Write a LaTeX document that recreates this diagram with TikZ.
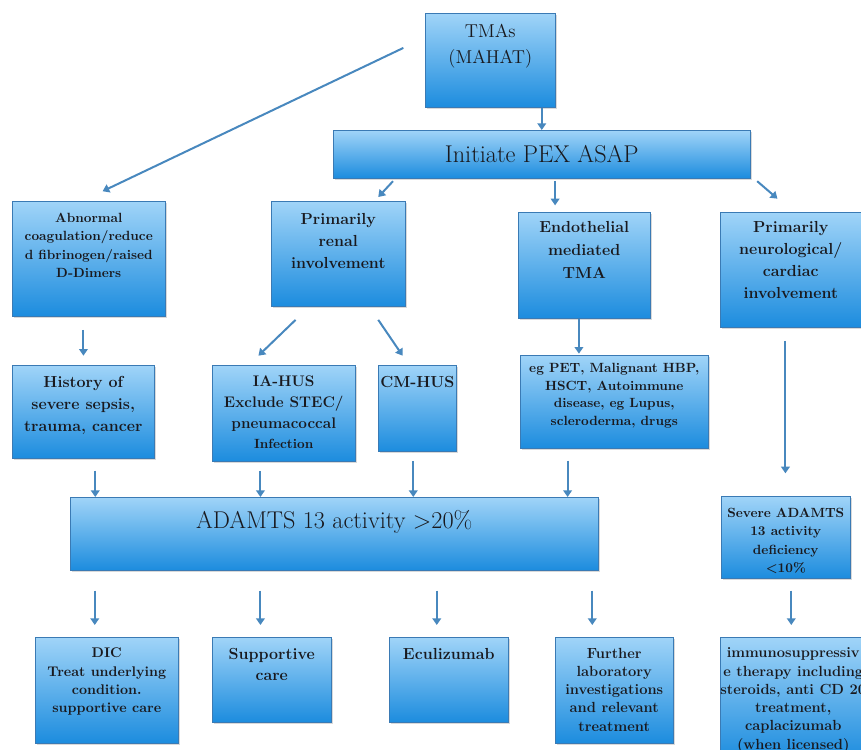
\documentclass[tikz,border=0pt]{standalone}
\usetikzlibrary{positioning,arrows.meta,shadows}

\definecolor{boxtop}{RGB}{160,212,248}
\definecolor{boxbot}{RGB}{28,140,222}
\definecolor{boxline}{RGB}{58,122,180}
\definecolor{arrblue}{RGB}{72,136,190}
\definecolor{inktxt}{RGB}{25,25,30}

\tikzset{
  flowbox/.style={draw=boxline, thin, top color=boxtop, bottom color=boxbot,
    anchor=north west, inner sep=0pt,
    drop shadow={shadow xshift=1.2pt, shadow yshift=-1.2pt, opacity=.3}},
  boxtext/.style={align=center, inner sep=0pt, text=inktxt},
  small/.style={boxtext, font=\bfseries\fontsize{10}{13.75}\selectfont},
  mid/.style={boxtext, font=\bfseries\fontsize{11}{13.7}\selectfont},
  large/.style={boxtext, font=\bfseries\fontsize{12}{16.5}\selectfont},
  huge/.style={boxtext, font=\fontsize{18.2}{21}\selectfont},
  arr/.style={draw=arrblue, line width=1.5pt, -{Triangle[width=6.5pt,length=5pt]}},
}

\begin{document}
\begin{tikzpicture}[x=0.75pt,y=-0.75pt]
\useasboundingbox (0,0) rectangle (861,750);
\clip (0,0) rectangle (861,750);

% top
\node[flowbox, minimum width=97.5pt, minimum height=70.5pt] (tmas) at (425,13) {};
\node[boxtext, font=\fontsize{14}{19.5}\selectfont, below=8pt of tmas.north] (tmasT) {TMAs\\(MAHAT)};
\node[flowbox, minimum width=312.75pt, minimum height=36pt] (pex) at (333,130) {};
\node[huge] (pexT) at (pex.center) {Initiate PEX ASAP};

% second row
\node[flowbox, minimum width=114.75pt, minimum height=86.25pt] (abn) at (12,201) {};
\node[small, below=9pt of abn.north] (abnT) {Abnormal\\coagulation/reduce\\d fibrinogen/raised\\D-Dimers};
\node[flowbox, minimum width=100.5pt, minimum height=78.75pt] (renal) at (271,201) {};
\node[large, below=9pt of renal.north] (renalT) {Primarily\\renal\\involvement};
\node[flowbox, minimum width=99pt, minimum height=79.5pt] (endo) at (518,212) {};
\node[large, font=\bfseries\fontsize{12}{17}\selectfont, below=7pt of endo.north] (endoT) {Endothelial\\mediated\\TMA};
\node[flowbox, minimum width=105.75pt, minimum height=86.25pt] (neuro) at (720,212) {};
\node[large, below=7pt of neuro.north] (neuroT) {Primarily\\neurological/\\cardiac\\involvement};

% third row
\node[flowbox, minimum width=106.5pt, minimum height=69.75pt] (hist) at (12,365) {};
\node[large, below=8pt of hist.north] (histT) {History of\\severe sepsis,\\trauma, cancer};
\node[flowbox, minimum width=107.25pt, minimum height=72pt] (iahus) at (212,365) {};
\node[boxtext, font=\bfseries\fontsize{11.5}{15.5}\selectfont, below=8pt of iahus.north] (iahusT) {IA-HUS\\Exclude STEC/\\pneumacoccal\\{\fontsize{10}{12}\selectfont Infection}};
\node[flowbox, minimum width=58.5pt, minimum height=64.5pt] (cmhus) at (378,365) {};
\node[large, below=8pt of cmhus.north] (cmhusT) {CM-HUS};
\node[flowbox, minimum width=141pt, minimum height=69.75pt] (egpet) at (520,355) {};
\node[small, font=\bfseries\fontsize{10}{13.3}\selectfont, below=6pt of egpet.north] (egpetT) {eg PET, Malignant HBP,\\HSCT, Autoimmune\\disease, eg Lupus,\\scleroderma, drugs};

% ADAMTS row
\node[flowbox, minimum width=396pt, minimum height=54.75pt] (adamts) at (70,497) {};
\node[huge, below=9.5pt of adamts.north] (adamtsT) {ADAMTS 13 activity >20\%};
\node[flowbox, minimum width=96.75pt, minimum height=61.5pt] (severe) at (721,496) {};
\node[small, below=9pt of severe.north] (severeT) {Severe ADAMTS\\13 activity\\deficiency\\<10\%};

% bottom row
\node[flowbox, minimum width=107.25pt, minimum height=79.5pt] (dic) at (35,637) {};
\node[boxtext, font=\bfseries\fontsize{10.5}{13.75}\selectfont, below=8pt of dic.north] (dicT) {DIC\\Treat underlying\\condition.\\supportive care};
\node[flowbox, minimum width=89.25pt, minimum height=63.75pt] (supp) at (212,637) {};
\node[large, font=\bfseries\fontsize{12}{15.7}\selectfont, below=8pt of supp.north] (suppT) {Supportive\\care};
\node[flowbox, minimum width=89.25pt, minimum height=63.75pt] (ecu) at (389,637) {};
\node[large, below=8pt of ecu.north] (ecuT) {Eculizumab};
\node[flowbox, minimum width=88.5pt, minimum height=79.5pt] (further) at (555,637) {};
\node[mid, below=8pt of further.north] (furtherT) {Further\\laboratory\\investigations\\and relevant\\treatment};
\node[flowbox, minimum width=109.5pt, minimum height=92.25pt] (immuno) at (720,637) {};
\node[mid, below=8pt of immuno.north] (immunoT) {immunosuppressiv\\e therapy including\\steroids, anti CD 20\\treatment,\\caplacizumab\\(when licensed)};

% arrows
\draw[arr, shorten <=18pt, shorten >=17pt] ([yshift=17pt]tmas.west) -- ([xshift=-5pt]abn.north);
\draw[arr] (tmas.south -| pex.north) -- (pex.north);
\draw[arr] ([xshift=45pt,yshift=-2pt]pex.south west) -- ([xshift=30pt,yshift=3pt]renal.north);
\draw[arr, shorten <=2pt, shorten >=5pt] ([xshift=10pt]pex.south) -- ([xshift=10pt]pex.south |- endo.north);
\draw[arr] ([xshift=5pt,yshift=-2pt]pex.south east) -- ([xshift=-10pt,yshift=10pt]neuro.north);
\draw[arr, shorten <=10pt, shorten >=7pt] ([xshift=-4pt]abn.south) -- ([xshift=-4pt]abn.south |- hist.north);
\draw[arr] ([shift={(-32pt,-10pt)}]renal.south) -- ([shift={(-19pt,7pt)}]iahus.north);
\draw[arr] ([shift={(30pt,-10pt)}]renal.south) -- ([shift={(-11pt,7pt)}]cmhus.north);
\draw[arr, shorten >=1pt] ([xshift=-4pt]endo.south) -- ([xshift=-4pt]endo.south |- egpet.north);
\draw[arr, shorten <=10pt, shorten >=17pt] ([xshift=-4pt]neuro.south) -- ([xshift=-4pt]neuro.south |- severe.north);
\draw[arr, shorten <=9pt] ([xshift=9pt]hist.south) -- ([xshift=9pt]hist.south |- adamts.north);
\draw[arr, shorten <=7pt] ([xshift=-17.5pt]iahus.south) -- ([xshift=-17.5pt]iahus.south |- adamts.north);
\draw[arr, shorten <=7pt] ([xshift=-3pt]cmhus.south) -- ([xshift=-3pt]cmhus.south |- adamts.north);
\draw[arr, shorten <=9pt] ([xshift=-35pt]egpet.south) -- ([xshift=-35pt]egpet.south |- adamts.north);
\draw[arr, shorten <=15pt, shorten >=9pt] ([xshift=-9pt]dic.north |- adamts.south) -- ([xshift=-9pt]dic.north);
\draw[arr, shorten <=15pt, shorten >=9pt] ([xshift=-8.5pt]supp.north |- adamts.south) -- ([xshift=-8.5pt]supp.north);
\draw[arr, shorten <=15pt, shorten >=9pt] ([xshift=-9pt]ecu.north |- adamts.south) -- ([xshift=-9pt]ecu.north);
\draw[arr, shorten <=15pt, shorten >=9pt] ([xshift=-16.5pt]further.north |- adamts.south) -- ([xshift=-16.5pt]further.north);
\draw[arr, shorten <=9pt, shorten >=9pt] ([xshift=-1.5pt]immuno.north |- severe.south) -- ([xshift=-1.5pt]immuno.north);
\end{tikzpicture}
\end{document}
